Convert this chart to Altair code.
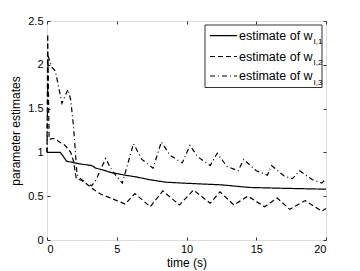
import altair as alt
import pandas as pd

FONT = "Liberation Sans"

series_names = ["w1", "w2", "w3"]
legend_main = ["estimate of w", "estimate of w", "estimate of w"]
legend_subs = ["I,1", "I,2", "I,3"]
x_ticks = [0, 5, 10, 15, 20]
y_ticks = [0, 0.5, 1, 1.5, 2, 2.5]

w1_t = [0, 0.95, 1.1, 1.4, 2.0, 2.3, 3.2, 3.5, 4.0, 4.6, 5.6, 6.4, 7.3, 8.5, 9.7, 11.0, 12.5, 14.5, 17.0, 20.0]
w1_v = [1.0, 1.0, 0.97, 0.9, 0.88, 0.87, 0.85, 0.82, 0.8, 0.77, 0.74, 0.72, 0.69, 0.66, 0.65, 0.64, 0.63, 0.6, 0.59, 0.58]

w2_t = [0, 0.05, 0.15, 0.5, 0.9, 1.3, 1.7, 1.9, 2.1, 2.5, 3.0, 3.4, 3.9, 4.4, 5.0, 5.6, 6.3, 7.4, 8.3,
        9.5, 10.5, 11.7, 12.4, 13.4, 14.4, 15.6, 16.5, 17.4, 18.5, 19.7, 20.0]
w2_v = [1.0, 2.35, 1.15, 1.16, 1.12, 1.08, 1.0, 0.9, 0.7, 0.68, 0.62, 0.57, 0.52, 0.49, 0.45, 0.41, 0.53, 0.38, 0.56,
        0.4, 0.57, 0.42, 0.55, 0.4, 0.5, 0.38, 0.48, 0.35, 0.45, 0.33, 0.36]

w3_t = [0, 0.08, 0.35, 0.6, 1.07, 1.5, 1.7, 1.9, 2.15, 2.4, 2.8, 3.2, 3.5, 4.2, 4.7, 5.4, 6.2, 6.8, 7.6, 8.2,
        8.8, 9.7, 10.25, 10.8, 11.7, 12.2, 12.9, 13.7, 14.1, 15.0, 15.8, 16.1, 17.0, 17.6, 18.1, 19.0, 19.7, 20.0]
w3_v = [1.0, 2.1, 1.97, 1.93, 1.56, 1.72, 1.6, 1.3, 0.75, 0.7, 0.65, 0.62, 0.68, 0.93, 0.78, 0.65, 1.1, 0.92, 0.82, 1.12,
        0.97, 0.88, 1.08, 0.95, 0.85, 0.99, 0.84, 0.79, 0.92, 0.79, 0.74, 0.85, 0.73, 0.7, 0.79, 0.69, 0.65, 0.7]

rows = []
for name, ts, vs in [("w1", w1_t, w1_v), ("w2", w2_t, w2_v), ("w3", w3_t, w3_v)]:
    for t, v in zip(ts, vs):
        rows.append({"series": name, "t": t, "v": v})
df = pd.DataFrame(rows)

W, H = 279, 219
dash_range = [[1, 0], [5, 3], [5, 3, 1, 3]]

x_scale = alt.Scale(domain=[0, 20], nice=False, zero=False)
y_scale = alt.Scale(domain=[0, 2.5], nice=False, zero=False)

base = alt.Chart(df)

lines = base.mark_line(color="black", strokeWidth=1.2).encode(
    x=alt.X("t:Q", scale=x_scale, axis=alt.Axis(
        values=x_ticks, format="~g", ticks=False, domain=False, grid=False,
        labelFont=FONT, labelFontSize=11, labelColor="black", labelPadding=3,
        title="time (s)", titleFont=FONT, titleFontSize=12, titleFontWeight="normal",
        titleColor="black", titlePadding=3)),
    y=alt.Y("v:Q", scale=y_scale, axis=alt.Axis(
        values=y_ticks, format="~g", ticks=False, domain=False, grid=False,
        labelFont=FONT, labelFontSize=11, labelColor="black", labelPadding=4,
        title="parameter estimates", titleFont=FONT, titleFontSize=12, titleFontWeight="normal",
        titleColor="black", titlePadding=5)),
    strokeDash=alt.StrokeDash("series:N", scale=alt.Scale(domain=series_names, range=dash_range), legend=None),
)

def tick_layer(xorient, yorient):
    return base.mark_point(opacity=0).encode(
        x=alt.X("t:Q", scale=x_scale, axis=alt.Axis(
            orient=xorient, offset=-H, values=x_ticks, labels=False, domain=False, grid=False,
            ticks=True, tickSize=3, tickColor="#333333", title=None)),
        y=alt.Y("v:Q", scale=y_scale, axis=alt.Axis(
            orient=yorient, offset=-W, values=y_ticks, labels=False, domain=False, grid=False,
            ticks=True, tickSize=3, tickColor="#333333", title=None)),
    )

ticks_a = tick_layer("top", "right")
ticks_b = tick_layer("bottom", "left")

one = pd.DataFrame({"k": [0]})
legend_box = alt.Chart(one).mark_rect(fill="white", stroke="#333333", strokeWidth=1).encode(
    x=alt.value(158), x2=alt.value(275), y=alt.value(4), y2=alt.value(66.5))

legend_layers = [legend_box]
row_y = [14.7, 35.5, 55.0]
for i in range(3):
    d = pd.DataFrame({"main": [legend_main[i]], "sub": [legend_subs[i]]})
    legend_layers.append(
        alt.Chart(d).mark_rule(color="black", strokeWidth=1.2, strokeDash=dash_range[i]).encode(
            x=alt.value(163), x2=alt.value(190), y=alt.value(row_y[i])))
    legend_layers.append(
        alt.Chart(d).mark_text(font=FONT, fontSize=12.5, align="left", baseline="alphabetic", color="black").encode(
            text="main:N", x=alt.value(192), y=alt.value(row_y[i] + 4)))
    legend_layers.append(
        alt.Chart(d).mark_text(font=FONT, fontSize=8, align="left", baseline="alphabetic", color="black").encode(
            text="sub:N", x=alt.value(266.5), y=alt.value(row_y[i] + 8.5)))

chart = alt.layer(lines, ticks_a, ticks_b, *legend_layers).resolve_axis(
    x="independent", y="independent"
).properties(
    width=W, height=H,
    autosize=alt.AutoSizeParams(type="none"),
    padding={"left": 39, "top": 13, "right": 26, "bottom": 31},
    background="white",
).configure_view(stroke="#333333", strokeWidth=1).configure(font=FONT)

chart.save("out.html", embed_options={"renderer": "svg", "actions": False})
